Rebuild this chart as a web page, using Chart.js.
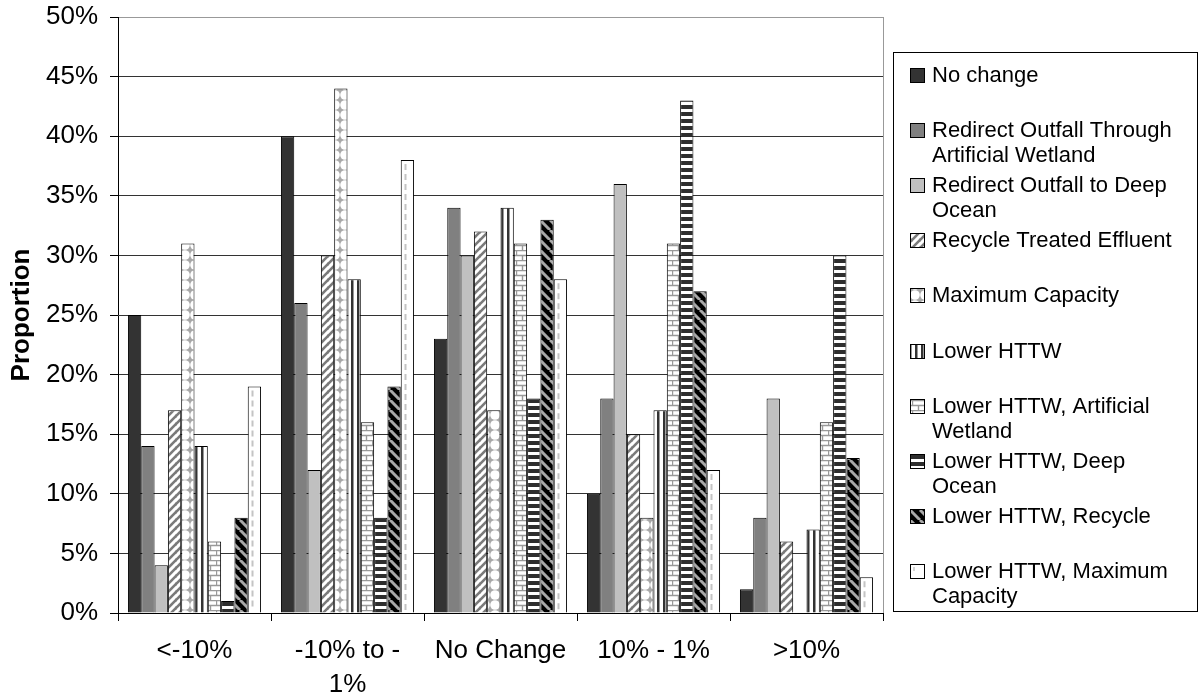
<!DOCTYPE html>
<html>
<head>
<meta charset="utf-8">
<script src="https://cdn.jsdelivr.net/npm/chart.js@4"></script>
<style>
  body { margin: 0; background: #fff; }
  canvas { display: block; }
</style>
</head>
<body>
<canvas id="chart" width="1203" height="697"></canvas>
<script>
// categories on the x axis (multi-line where the label wraps)
const categories = [['<-10%'], ['-10% to -', '1%'], ['No Change'], ['10% - 1%'], ['>10%']];

const seriesNames = [
  'No change',
  'Redirect Outfall Through Artificial Wetland',
  'Redirect Outfall to Deep Ocean',
  'Recycle Treated Effluent',
  'Maximum Capacity',
  'Lower HTTW',
  'Lower HTTW, Artificial Wetland',
  'Lower HTTW, Deep Ocean',
  'Lower HTTW, Recycle',
  'Lower HTTW, Maximum Capacity'
];

// values in percent, one entry per category
const noChange        = [25, 40, 23, 10, 2];
const redirectWetland = [14, 26, 34, 18, 8];
const redirectOcean   = [4, 12, 30, 36, 18];
const recycle         = [17, 30, 32, 15, 6];
const maxCapacity     = [31, 44, 17, 8, 0];
const lowerHttw       = [14, 28, 34, 17, 7];
const httwWetland     = [6, 16, 31, 31, 16];
const httwOcean       = [1, 8, 18, 43, 30];
const httwRecycle     = [8, 19, 33, 27, 13];
const httwMaxCap      = [19, 38, 28, 12, 3];

const yMax = 50;
const yStep = 5;

const FONT = '"Liberation Sans", Arial, sans-serif';

const canvas = document.getElementById('chart');
const ctx = canvas.getContext('2d');

// small helper to build fill patterns
const makePattern = (w, h, draw) => {
  const c = document.createElement('canvas');
  c.width = w;
  c.height = h;
  const g = c.getContext('2d');
  draw(g, w, h);
  return ctx.createPattern(c, 'repeat');
};

const upDiagonal = makePattern(8, 8, (g) => {
  g.fillStyle = '#fff'; g.fillRect(0, 0, 8, 8);
  g.strokeStyle = '#7a7a7a'; g.lineWidth = 2.6;
  [[-8, 8, 0, 0], [0, 8, 8, 0], [8, 8, 16, 0]].forEach(([x1, y1, x2, y2]) => {
    g.beginPath(); g.moveTo(x1, y1); g.lineTo(x2, y2); g.stroke();
  });
  g.beginPath(); g.moveTo(-4, 4); g.lineTo(4, -4); g.stroke();
  g.beginPath(); g.moveTo(4, 12); g.lineTo(12, 4); g.stroke();
});

const spheres = makePattern(10, 10, (g) => {
  g.fillStyle = '#a8a8a8'; g.fillRect(0, 0, 10, 10);
  g.fillStyle = '#fff';
  g.beginPath(); g.arc(5, 5, 4.8, 0, Math.PI * 2); g.fill();
});

const verticalStripes = makePattern(6, 1, (g) => {
  g.fillStyle = '#fff'; g.fillRect(0, 0, 6, 1);
  g.fillStyle = '#333'; g.fillRect(3, 0, 2.5, 1);
});

const bricks = makePattern(12, 10, (g) => {
  g.fillStyle = '#fff'; g.fillRect(0, 0, 12, 10);
  g.strokeStyle = '#999'; g.lineWidth = 1.4;
  g.beginPath();
  g.moveTo(0, 0.5); g.lineTo(12, 0.5);
  g.moveTo(0, 5.5); g.lineTo(12, 5.5);
  g.moveTo(0.5, 0); g.lineTo(0.5, 5.5);
  g.moveTo(6.5, 5.5); g.lineTo(6.5, 10);
  g.stroke();
});

const horizontalStripes = makePattern(1, 7, (g) => {
  g.fillStyle = '#fff'; g.fillRect(0, 0, 1, 7);
  g.fillStyle = '#2e2e2e'; g.fillRect(0, 0, 1, 4);
});

const downDiagonal = makePattern(10, 10, (g) => {
  g.fillStyle = '#000'; g.fillRect(0, 0, 10, 10);
  g.strokeStyle = '#a8a8a8'; g.lineWidth = 3;
  [[-10, 0, 0, 10], [0, 0, 10, 10], [10, 0, 20, 10]].forEach(([x1, y1, x2, y2]) => {
    g.beginPath(); g.moveTo(x1, y1); g.lineTo(x2, y2); g.stroke();
  });
});

const fills = ['#333333', '#808080', '#c0c0c0', upDiagonal, spheres,
  verticalStripes, bricks, horizontalStripes, downDiagonal, '#ffffff'];

const seriesData = [noChange, redirectWetland, redirectOcean, recycle, maxCapacity,
  lowerHttw, httwWetland, httwOcean, httwRecycle, httwMaxCap];

const datasets = seriesNames.map((name, i) => ({
  label: name,
  data: seriesData[i],
  backgroundColor: fills[i],
  borderColor: '#000',
  borderWidth: 1,
  categoryPercentage: 0.87,
  barPercentage: 1.0
}));

// dashed grey line inside the last series' bars
const dashedBars = {
  id: 'dashedBars',
  afterDatasetsDraw(chart) {
    const meta = chart.getDatasetMeta(9);
    const c = chart.ctx;
    c.save();
    c.strokeStyle = '#c4c4c4';
    c.lineWidth = 2;
    c.setLineDash([6, 4]);
    meta.data.forEach(bar => {
      if (bar.base - bar.y < 6) return;
      const x = Math.round(bar.x - bar.width / 2 + 4) + 0.5;
      c.beginPath();
      c.moveTo(x, bar.y + 4);
      c.lineTo(x, bar.base - 2);
      c.stroke();
    });
    c.restore();
  }
};

// grey frame on the right side of the plot
const plotFrame = {
  id: 'plotFrame',
  afterDraw(chart) {
    const { right, top, bottom } = chart.chartArea;
    const c = chart.ctx;
    c.save();
    c.strokeStyle = '#999';
    c.lineWidth = 1;
    c.beginPath();
    c.moveTo(Math.round(right) + 0.5, top);
    c.lineTo(Math.round(right) + 0.5, bottom);
    c.stroke();
    c.restore();
  }
};

const wrapText = (c, text, maxW) => {
  const words = text.split(' ');
  const lines = [];
  let line = '';
  words.forEach(w => {
    const test = line ? line + ' ' + w : w;
    if (c.measureText(test).width > maxW && line) {
      lines.push(line);
      line = w;
    } else {
      line = test;
    }
  });
  lines.push(line);
  return lines;
};

// boxed legend on the right, Excel style
const legendBox = {
  id: 'legendBox',
  afterDraw(chart) {
    const c = chart.ctx;
    c.save();
    c.strokeStyle = '#000';
    c.lineWidth = 1;
    c.strokeRect(893.5, 52.5, 304, 559);
    c.font = '22px ' + FONT;
    c.textBaseline = 'middle';
    c.textAlign = 'left';
    seriesNames.forEach((name, i) => {
      const y = Math.round(76 + i * 55.1);
      c.fillStyle = fills[i];
      c.fillRect(910, y - 7, 14, 14);
      c.strokeStyle = '#000';
      c.strokeRect(910.5, y - 7.5, 14, 14);
      if (i === 9) {
        c.strokeStyle = '#c4c4c4';
        c.lineWidth = 1.5;
        c.beginPath(); c.moveTo(914, y - 5); c.lineTo(914, y - 1); c.stroke();
        c.lineWidth = 1;
      }
      c.fillStyle = '#000';
      wrapText(c, name, 263).forEach((l, j) => c.fillText(l, 932, y + j * 25));
    });
    c.restore();
  }
};

new Chart(ctx, {
  type: 'bar',
  data: { labels: categories, datasets: datasets },
  options: {
    responsive: false,
    animation: false,
    layout: { padding: { left: 0, right: 320, top: 17, bottom: 0 } },
    plugins: {
      legend: { display: false },
      tooltip: { enabled: false }
    },
    scales: {
      x: {
        ticks: {
          font: { family: FONT, size: 26, lineHeight: 1.3 },
          color: '#000',
          padding: 13,
          maxRotation: 0,
          autoSkip: false
        },
        grid: { drawOnChartArea: false, offset: true, tickColor: '#000', tickLength: 8 },
        border: { color: '#000', width: 1 },
        afterFit: s => { s.height = 84; s.paddingLeft = 0; s.paddingRight = 0; }
      },
      y: {
        min: 0,
        max: yMax,
        ticks: {
          stepSize: yStep,
          callback: v => v + '%',
          font: { family: FONT, size: 26 },
          color: '#000',
          padding: 12
        },
        grid: {
          color: c => (c.tick && c.tick.value === yMax ? '#999' : '#333'),
          tickColor: '#000',
          tickLength: 8
        },
        border: { color: '#000', width: 1 },
        title: {
          display: true,
          text: 'Proportion',
          font: { family: FONT, size: 26, weight: 'bold' },
          color: '#000',
          padding: { top: 6, bottom: 0 }
        },
        afterFit: s => { s.width = 118; s.paddingTop = 0; s.paddingBottom = 0; }
      }
    }
  },
  plugins: [dashedBars, plotFrame, legendBox]
});
</script>
</body>
</html>
